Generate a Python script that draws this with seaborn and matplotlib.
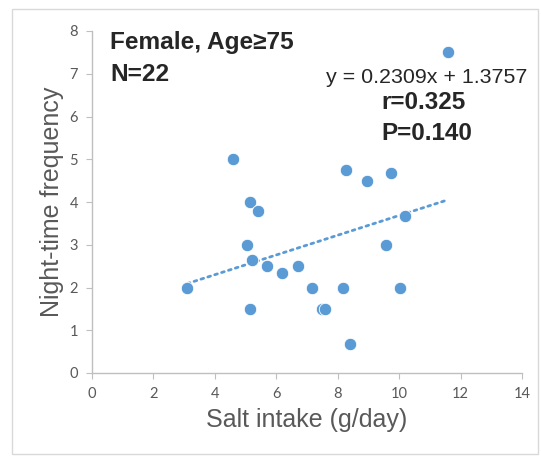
import matplotlib
matplotlib.use("Agg")
import matplotlib.pyplot as plt
import numpy as np
import pandas as pd
import seaborn as sb
from matplotlib.patches import Rectangle

# salt intake (g/day) and night-time frequency
salt = [3.1, 4.6, 5.15, 5.4, 5.05, 5.2, 5.7, 6.2, 6.7, 7.15, 5.15,
        7.5, 7.6, 8.17, 8.4, 8.27, 8.95, 9.73, 9.58, 10.2, 10.03, 11.58]
night = [2.0, 5.0, 4.0, 3.8, 3.0, 2.65, 2.5, 2.33, 2.5, 2.0, 1.5,
         1.5, 1.5, 2.0, 0.67, 4.75, 4.5, 4.67, 3.0, 3.67, 2.0, 7.5]
slope = 0.2309
intercept = 1.3757
x_ticks = [0, 2, 4, 6, 8, 10, 12, 14]
y_ticks = [0, 1, 2, 3, 4, 5, 6, 7, 8]

df = pd.DataFrame({"salt": salt, "night": night})
fit_x = np.array([min(salt), max(salt)])
fit = pd.DataFrame({"salt": fit_x, "night": slope * fit_x + intercept})

sb.set_style("white")
blue = "#5b9bd5"
grey = "#595959"

fig = plt.figure(figsize=(5.41, 4.62), dpi=100)
ax = fig.add_axes([92 / 541, 89 / 462, 430 / 541, 342 / 462])

# outer chart border
fig.patches.append(Rectangle((12 / 541, 8 / 462), 526 / 541, 445 / 462,
                             transform=fig.transFigure, fill=False,
                             edgecolor="#d9d9d9", linewidth=1))

sb.lineplot(data=fit, x="salt", y="night", ax=ax, color=blue,
            linestyle=(0, (1, 1.6)), linewidth=2, dash_capstyle="round")
sb.scatterplot(data=df, x="salt", y="night", ax=ax, color=blue, s=80,
               edgecolor="white", linewidth=0.6, zorder=3)

ax.set_xlim(0, 14)
ax.set_ylim(0, 8)
ax.set_xticks(x_ticks)
ax.set_yticks(y_ticks)
ax.tick_params(axis="both", which="both", direction="out", length=4,
               width=0.8, color="#bfbfbf", labelcolor=grey, labelsize=10.5,
               pad=6, bottom=True, left=True)
for lab in ax.get_xticklabels() + ax.get_yticklabels():
    lab.set_family("Lato")
for s in ["top", "right"]:
    ax.spines[s].set_visible(False)
for s in ["left", "bottom"]:
    ax.spines[s].set_color("#bfbfbf")
    ax.spines[s].set_linewidth(1)

ax.set_xlabel("Salt intake (g/day)", fontsize=18, color=grey,
              family="Liberation Sans", labelpad=5)
ax.set_ylabel("Night-time frequency", fontsize=18, color=grey,
              family="Liberation Sans", labelpad=4)

txt = dict(family="Liberation Sans", transform=fig.transFigure)
fig.text(110 / 541, 1 - 49 / 462, "Female, Age≥75", fontsize=17.6,
         fontweight="bold", va="baseline", **txt)
fig.text(110 / 541, 1 - 81 / 462, "N=22", fontsize=17.6,
         fontweight="bold", va="baseline", **txt)
fig.text(527 / 541, 1 - 83 / 462, f"y = {slope}x + {intercept}",
         fontsize=15.4, ha="right", va="baseline", color="#262626", **txt)
fig.text(381 / 541, 1 - 109 / 462, "r=0.325", fontsize=17.5,
         fontweight="bold", va="baseline", **txt)
fig.text(381 / 541, 1 - 140 / 462, "P=0.140", fontsize=17.5,
         fontweight="bold", va="baseline", **txt)

plt.savefig("out.png", dpi=100)
